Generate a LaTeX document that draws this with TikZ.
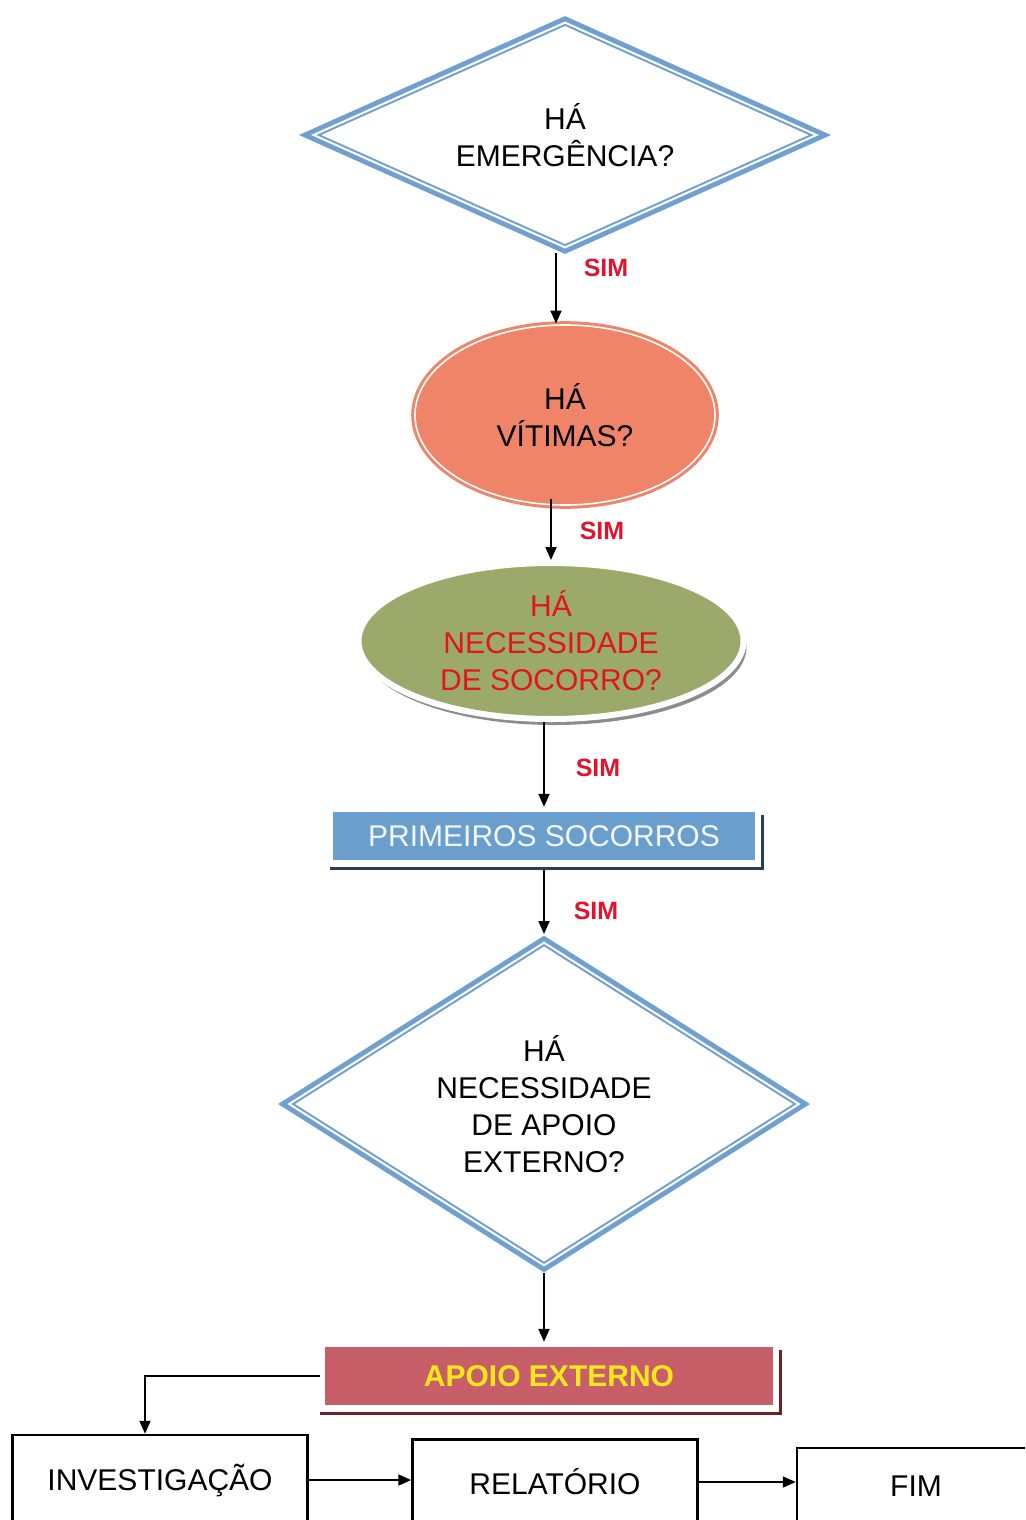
\documentclass[tikz,border=0pt]{standalone}
\usepackage{fontspec}
\setmainfont{Liberation Sans}
\usetikzlibrary{shapes.geometric,arrows.meta,calc,shadows}
\definecolor{dblue}{HTML}{6FA0CF}
\definecolor{salmon}{HTML}{EF8468}
\definecolor{olive}{HTML}{9BA96B}
\definecolor{boxblue}{HTML}{6A9FCD}
\definecolor{boxred}{HTML}{C85E68}
\definecolor{simred}{HTML}{E0142C}
\definecolor{txtred}{HTML}{E3141E}
\definecolor{apyellow}{HTML}{F6E81C}
\definecolor{navyline}{HTML}{2E3C55}
\definecolor{maroonline}{HTML}{6A2228}
\newcommand{\diainner}[2]{\draw[white, line width=2pt] ($(#1.center)!#2!(#1.north)$) -- ($(#1.center)!#2!(#1.east)$) -- ($(#1.center)!#2!(#1.south)$) -- ($(#1.center)!#2!(#1.west)$) -- cycle;}
\begin{document}
\begin{tikzpicture}[x=1pt,y=-1pt,
  txt/.style={font=\fontsize{30}{37}\selectfont, align=center},
  dia/.style={diamond, draw=dblue, line width=9pt, fill=white, inner sep=0pt, outer sep=0pt, txt},
  arr/.style={line width=1.9pt, -{Triangle[width=11pt,length=13pt]}},
  sim/.style={text=simred, font=\fontsize{25}{25}\selectfont\bfseries},
  plainbox/.style={rectangle, draw=black, line width=2.5pt, fill=white, txt}
]
\useasboundingbox (0,0) rectangle (1025,1520);
\clip (0,0) rectangle (1025,1520);
\fill[white] (0,0) rectangle (1025,1520);

% Diamond 1
\node[dia, aspect=2.24, minimum width=510pt, minimum height=228pt] (d1) at (565,135) {HÁ\\EMERGÊNCIA?};
\diainner{d1}{0.986}

% Ellipse 1
\node[ellipse, minimum width=300pt, minimum height=180pt, inner sep=0pt, fill=salmon, draw=salmon, line width=3pt, double=white, double distance=1.6pt, txt] (e1) at (565,415) {HÁ\\VÍTIMAS?};

% Ellipse 2
\node[ellipse, minimum width=385pt, minimum height=156pt, inner sep=0pt, fill=olive, draw=white, line width=6pt, drop shadow={shadow xshift=3pt, shadow yshift=-6pt, fill=black!45, opacity=1}, txt, text=txtred] (e2) at (551,641) {HÁ\\NECESSIDADE\\DE SOCORRO?};

% Box 1
\node[rectangle, fill=boxblue, minimum width=422pt, minimum height=48pt, inner sep=0pt, txt, text=white!92!boxblue] (b1) at (544,836) {PRIMEIROS SOCORROS};
\draw[navyline, line width=3pt] ([shift={(-3pt,-8pt)}]b1.south west) -| ([shift={(7pt,-3pt)}]b1.north east);

% Diamond 2
\node[dia, aspect=1.58, minimum width=515pt, minimum height=326pt] (d2) at (544,1104) {HÁ\\NECESSIDADE\\DE APOIO\\EXTERNO?};
\diainner{d2}{0.9895}

% Box 2
\node[rectangle, fill=boxred, minimum width=448pt, minimum height=58pt, inner sep=0pt, txt, text=apyellow, font=\fontsize{30}{37}\selectfont\bfseries] (b2) at (549,1376) {APOIO EXTERNO};
\draw[maroonline, line width=3pt] ([shift={(-5pt,-8pt)}]b2.south west) -| ([shift={(7pt,-3pt)}]b2.north east);

% Bottom boxes
\node[plainbox, minimum width=295pt, minimum height=90pt, inner sep=0pt] (inv) at (160,1480) {INVESTIGAÇÃO};
\node[plainbox, minimum width=285pt, minimum height=85pt, inner sep=0pt] (rel) at (555,1482) {RELATÓRIO};
\node[plainbox, minimum width=238pt, minimum height=76pt, inner sep=0pt] (fim) at (916,1486) {FIM};

% Connectors
\draw[arr] ([xshift=-9pt,yshift=-4pt]d1.south) -- ([xshift=-9pt]e1.north);
\draw[arr] ([yshift=8pt]e1.south -| e2.north) -- (e2.north);
\draw[arr] (e2.south -| b1.north) -- ([yshift=5pt]b1.north);
\draw[arr] ([yshift=-10pt]b1.south -| d2.north) -- ([yshift=7pt]d2.north);
\draw[arr] ([yshift=-6pt]d2.south) -- ([yshift=5pt]d2.south |- b2.north);
\draw[arr] ([xshift=-5pt]b2.west) -| ([xshift=-15pt]inv.north);
\draw[arr] (inv.east) -- (inv.east -| rel.west);
\draw[arr] (rel.east) -- (rel.east -| fim.west);

% SIM labels
\node[sim] (s1) at (606,268) {SIM};
\node[sim] (s2) at (602,531) {SIM};
\node[sim] (s3) at (598,768) {SIM};
\node[sim] (s4) at (596,911) {SIM};
\end{tikzpicture}
\end{document}
